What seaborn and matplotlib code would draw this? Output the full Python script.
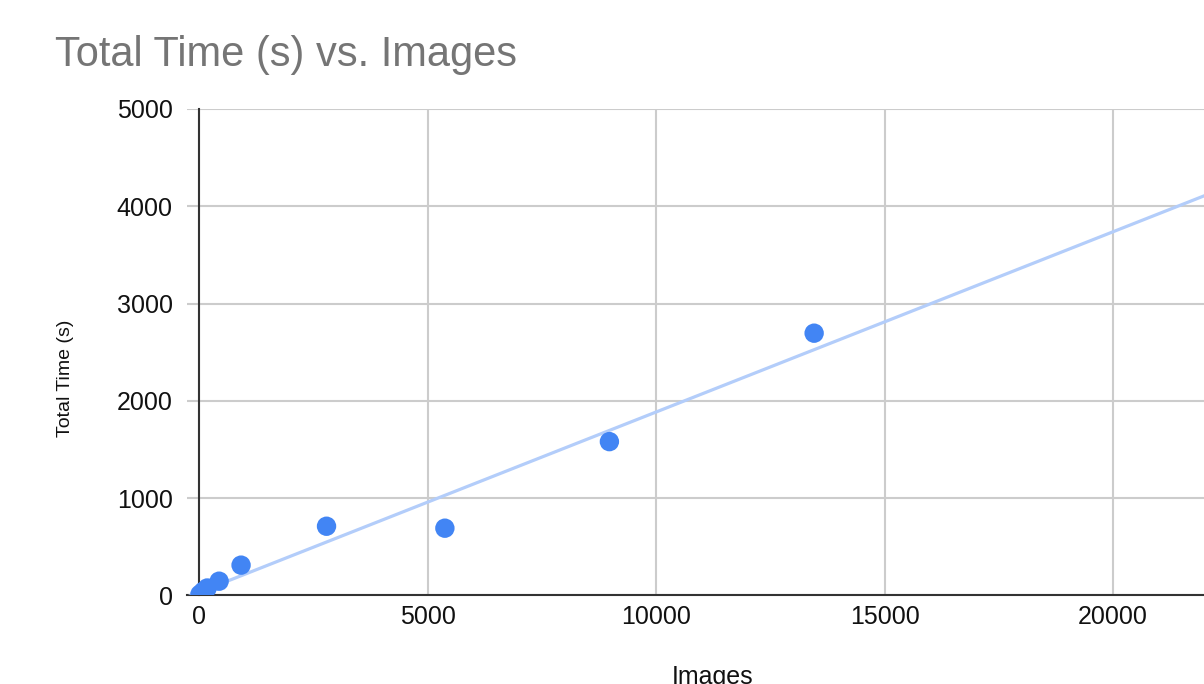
import matplotlib
matplotlib.use("Agg")
import matplotlib.pyplot as plt
import seaborn as sns
import pandas as pd

# values
images = [20, 90, 180, 440, 920, 2790, 5380, 8980, 13460]
total_time = [10, 40, 75, 145, 310, 710, 690, 1580, 2695]
x_ticks = [0, 5000, 10000, 15000, 20000]
y_ticks = [0, 1000, 2000, 3000, 4000, 5000]

df = pd.DataFrame({"Images": images, "Total Time (s)": total_time})

sns.set_theme(style="white")
plt.rcParams["font.family"] = ["Liberation Sans", "DejaVu Sans"]

fig = plt.figure(figsize=(12.04, 6.84), dpi=100)
# axes run past the right edge, like the cropped original
ax = fig.add_axes([187 / 1204, (684 - 595.3) / 684, 1052 / 1204, 486.3 / 684])
ax.set_xlim(-263, 22757)
ax.set_ylim(0, 5000)

sns.regplot(data=df, x="Images", y="Total Time (s)", ax=ax, ci=None, truncate=False,
            scatter_kws={"s": 195, "color": "#4285F4", "alpha": 1, "zorder": 4,
                         "edgecolor": "none"},
            line_kws={"color": "#b3cdfa", "lw": 2.3, "zorder": 3})

ax.set_xlim(-263, 22757)
ax.set_ylim(0, 5000)
ax.set_xticks(x_ticks)
ax.set_yticks(y_ticks)
ax.grid(True, color="#cccccc", lw=1.5, zorder=0)
ax.set_axisbelow(True)

for side in ["top", "right"]:
    ax.spines[side].set_visible(False)
ax.spines["left"].set_position(("data", 0))
ax.spines["left"].set_color("#333333")
ax.spines["left"].set_linewidth(1.5)
ax.spines["bottom"].set_color("#333333")
ax.spines["bottom"].set_linewidth(1.5)
ax.spines["left"].set_zorder(2)

ax.tick_params(axis="y", length=0, pad=19, labelsize=18, labelcolor="#111111")
ax.tick_params(axis="x", length=0, pad=7, labelsize=18, labelcolor="#111111")

ax.set_xlabel("Images", fontsize=18, color="#111111", labelpad=26)
ax.set_ylabel("")
fig.text(66 / 1204, 1 - 378 / 684, "Total Time (s)", rotation=90, fontsize=14,
         color="#111111", ha="center", va="center")

fig.text(55 / 1204, 1 - 66 / 684, "Total Time (s) vs. Images", fontsize=30,
         color="#757575", ha="left", va="baseline")

fig.savefig("out.png", dpi=100)
